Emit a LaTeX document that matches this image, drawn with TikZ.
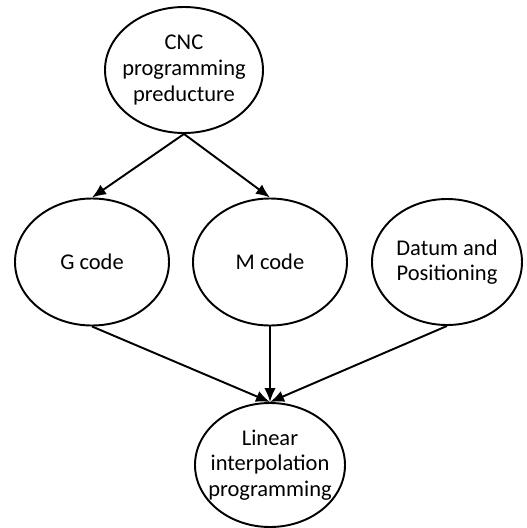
\documentclass[tikz,border=0pt]{standalone}
\usepackage{fontspec}
\setmainfont{Carlito}
\usetikzlibrary{shapes.geometric,arrows.meta}
\tikzset{bubble/.style={draw,ellipse,line width=1.1pt,inner ysep=0pt,inner xsep=-8mm,align=center,font=\fontsize{12.8}{14.6}\selectfont}}
\tikzset{link/.style={line width=1.1pt,-{Latex[length=2.8mm,width=2.3mm]}}}

\begin{document}
\begin{tikzpicture}

% Define frame and plot the bubbles
\useasboundingbox (0,0) rectangle (10.54,-10.56);

\node[bubble,minimum width=3.16cm,minimum height=2.52cm] (cnc) at (3.68,-1.40) {CNC\\programming\\preducture};
\node[bubble,minimum width=3.08cm,minimum height=2.54cm] (gcode) at (1.84,-5.24) {G code};
\node[bubble,minimum width=3.08cm,minimum height=2.54cm] (mcode) at (5.40,-5.24) {M code};
\node[bubble,minimum width=3.00cm,minimum height=2.52cm] (datum) at (8.94,-5.24) {Datum and\\Positioning};
\node[bubble,minimum width=3.00cm,minimum height=2.48cm] (linear) at (5.40,-9.30) {Linear\\interpolation\\programming};

\draw[link] (cnc.south) -- (gcode.north);
\draw[link] (cnc.south) -- (mcode.north);
\draw[link] (gcode.south) -- (linear.north);
\draw[link] (mcode.south) -- (linear.north);
\draw[link] (datum.south) -- (linear.north);

\end{tikzpicture}
\end{document}
